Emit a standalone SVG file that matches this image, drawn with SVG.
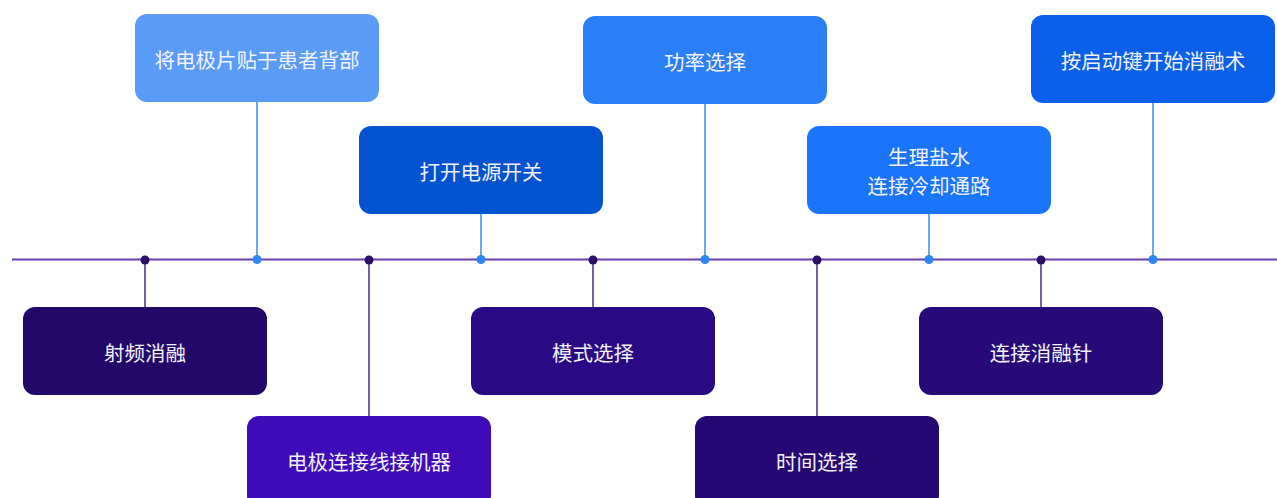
<svg xmlns="http://www.w3.org/2000/svg" width="1277" height="498" viewBox="0 0 1277 498">
<style>
.box{rx:12px;ry:12px}
.t{font-family:"Microsoft YaHei","Noto Sans CJK SC","Noto Sans",sans-serif;font-size:20.5px;fill:#f2f2fa;text-anchor:middle;dominant-baseline:central}
.up{stroke:#3b8cf2;stroke-width:1.5}
.dn{stroke:#4a2a8a;stroke-width:1.5}
.dotu{fill:#2f86f8}
.dotd{fill:#2a0e68}
</style>
<rect width="1277" height="498" fill="#ffffff"/>
<g id="connectors">
<line x1="12" y1="259.5" x2="1277" y2="259.5" stroke="#6a3db0" stroke-width="2"/>
<line class="up" x1="257" y1="101" x2="257" y2="259"/>
<line class="up" x1="481" y1="213" x2="481" y2="259"/>
<line class="up" x1="705" y1="103" x2="705" y2="259"/>
<line class="up" x1="929" y1="213" x2="929" y2="259"/>
<line class="up" x1="1153" y1="103" x2="1153" y2="259"/>
<line class="dn" x1="145" y1="259" x2="145" y2="307"/>
<line class="dn" x1="369" y1="259" x2="369" y2="417"/>
<line class="dn" x1="593" y1="259" x2="593" y2="308"/>
<line class="dn" x1="817" y1="259" x2="817" y2="417"/>
<line class="dn" x1="1041" y1="259" x2="1041" y2="308"/>
<circle class="dotu" cx="257" cy="259.5" r="4.5"/>
<circle class="dotu" cx="481" cy="259.5" r="4.5"/>
<circle class="dotu" cx="705" cy="259.5" r="4.5"/>
<circle class="dotu" cx="929" cy="259.5" r="4.5"/>
<circle class="dotu" cx="1153" cy="259.5" r="4.5"/>
<circle class="dotd" cx="145" cy="260" r="4.5"/>
<circle class="dotd" cx="369" cy="260" r="4.5"/>
<circle class="dotd" cx="593" cy="260" r="4.5"/>
<circle class="dotd" cx="817" cy="260" r="4.5"/>
<circle class="dotd" cx="1041" cy="260" r="4.5"/>
</g>
<g id="n1"><rect class="box" x="135" y="14" width="244" height="88" fill="#5b9bf8"/><text class="t" x="257" y="59">将电极片贴于患者背部</text></g>
<g id="n2"><rect class="box" x="359" y="126" width="244" height="88" fill="#0353d0"/><text class="t" x="481" y="171">打开电源开关</text></g>
<g id="n3"><rect class="box" x="583" y="16" width="244" height="88" fill="#2a7ff8"/><text class="t" x="705" y="61">功率选择</text></g>
<g id="n4"><rect class="box" x="807" y="126" width="244" height="88" fill="#1a75fb"/><text class="t" x="929"><tspan x="929" y="156">生理盐水</tspan><tspan x="929" y="185">连接冷却通路</tspan></text></g>
<g id="n5"><rect class="box" x="1031" y="15" width="244" height="88" fill="#0a60ea"/><text class="t" x="1153" y="60">按启动键开始消融术</text></g>
<g id="b1"><rect class="box" x="23" y="307" width="244" height="88" fill="#23086a"/><text class="t" x="145" y="352">射频消融</text></g>
<g id="b2"><rect class="box" x="247" y="416" width="244" height="92" fill="#3f0bb8"/><text class="t" x="369" y="461">电极连接线接机器</text></g>
<g id="b3"><rect class="box" x="471" y="307" width="244" height="88" fill="#2a0a84"/><text class="t" x="593" y="352">模式选择</text></g>
<g id="b4"><rect class="box" x="695" y="416" width="244" height="92" fill="#260874"/><text class="t" x="817" y="461">时间选择</text></g>
<g id="b5"><rect class="box" x="919" y="307" width="244" height="88" fill="#270a78"/><text class="t" x="1041" y="352">连接消融针</text></g>
</svg>
